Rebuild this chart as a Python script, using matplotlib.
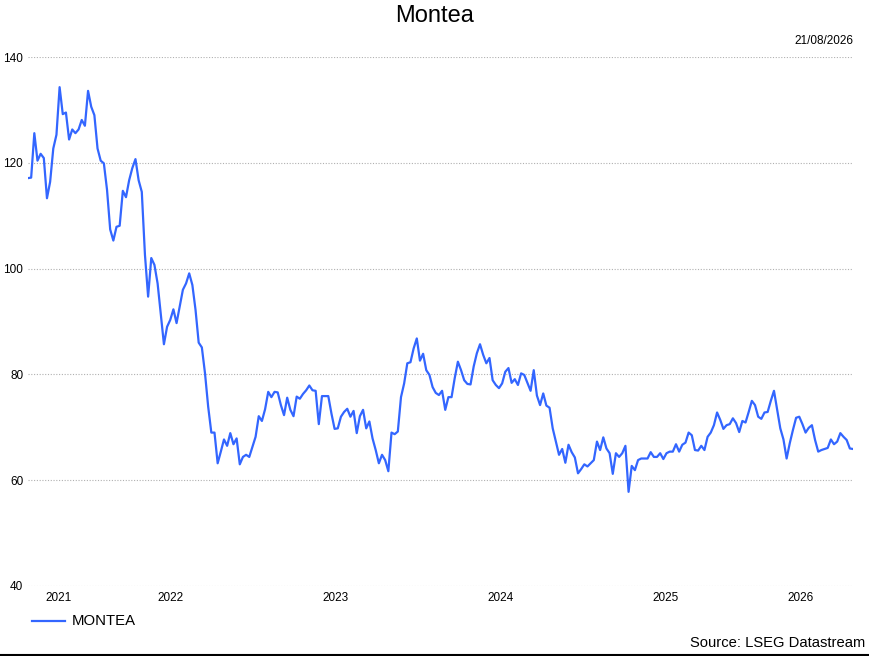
"""Montea weekly share price, five-year line chart."""

import matplotlib

matplotlib.use("Agg")

import matplotlib.dates as mdates
import matplotlib.pyplot as plt
import pandas as pd
from matplotlib.lines import Line2D

plt.rcParams["font.family"] = ["Liberation Sans", "DejaVu Sans"]

# --------------------------------------------------
# data (weekly closes)
# --------------------------------------------------
series_name = "MONTEA"
end_date = "2026-08-21"

prices = [
    # aug 2021 - sep 2022
    117.1, 117.2, 125.6, 120.4, 121.7, 120.9, 113.3, 116.4, 122.7, 125.3,
    134.3, 129.2, 129.5, 124.4, 126.3, 125.6, 126.3, 128.1, 127.0, 133.6,
    130.6, 129.0, 122.7, 120.4, 119.9, 114.9, 107.4, 105.3, 107.9, 108.1,
    114.7, 113.5, 116.7, 119.0, 120.7, 116.7, 114.5, 102.6, 94.7, 102.0,
    100.7,
    97.2, 91.5, 85.7, 89.0, 90.3, 92.3, 89.7, 92.8, 96.0, 97.2,
    99.1, 96.9, 92.2, 86.0, 85.1, 80.2, 73.9, 69.0, 69.0, 63.2,
    65.4, 67.7, 66.5, 68.9, 66.8, 67.9, 63.0, 64.4, 64.8, 64.4,
    66.3, 68.2,
    # 2022 - 2023
    72.1, 71.2, 73.4, 76.7, 75.7, 76.7, 76.6, 74.2, 72.3, 75.6,
    73.3, 72.1, 75.8, 75.4, 76.3, 77.0, 77.9, 77.0, 76.9, 70.6,
    75.9, 75.9, 75.9, 72.6, 69.7, 69.8, 72.0, 72.9, 73.5, 72.0,
    73.1, 68.9, 72.1, 73.3, 69.8, 71.1, 67.9, 65.7, 63.2, 64.8,
    63.8, 61.7,
    69.0, 68.7, 69.2, 75.7, 78.3, 82.1, 82.3, 84.9, 86.8, 82.6,
    83.9, 80.8, 79.9, 77.6, 76.5, 76.1, 76.9, 73.3, 75.7, 75.7,
    79.3, 82.4, 80.8, 78.9, 78.2, 78.1, 81.5, 84.0, 85.7, 83.7,
    82.1, 83.1, 78.9, 78.0, 77.4, 78.3, 80.5, 81.2, 78.4, 79.1,
    78.0, 80.2, 79.9, 78.4, 76.9, 80.8,
    # 2024 - 2025
    76.0, 74.2, 76.4, 74.1, 73.7, 69.8, 67.3, 64.8, 65.9, 63.3,
    66.7, 65.3, 64.3, 61.3, 62.1, 63.0, 62.6, 63.2, 63.8, 67.3,
    65.7, 68.1, 66.0, 65.1, 61.2, 65.1, 64.4, 65.1, 66.5, 57.8,
    62.7, 61.9, 63.8, 64.1, 64.1, 64.1, 65.3, 64.4, 64.4, 65.1,
    64.0, 65.1, 65.4, 65.4, 66.8, 65.4,
    # 2025 - aug 2026
    66.7, 67.1, 69.0, 68.5, 65.7, 65.6, 66.5, 65.7, 68.2, 69.0,
    70.4, 72.8, 71.4, 69.7, 70.4, 70.6, 71.7, 70.8, 69.1, 71.2,
    70.9, 72.9, 75.0, 74.2, 72.0, 71.6, 72.8, 72.9, 75.0, 76.9,
    73.4, 69.8, 67.7, 64.1, 67.0, 69.5, 71.8, 72.0, 70.6, 69.0,
    69.9, 70.4, 67.6, 65.4, 65.7, 65.9, 66.1, 67.7, 66.8, 67.3,
    68.9, 68.2, 67.6, 66.0, 65.9,
]

y_ticks = [40, 60, 80, 100, 120, 140]
years = [2021, 2022, 2023, 2024, 2025, 2026]

dates = pd.date_range(end=end_date, periods=len(prices), freq="W-FRI")

# --------------------------------------------------
# figure
# --------------------------------------------------
fig = plt.figure(figsize=(8.7, 6.56), dpi=100)
ax = fig.add_axes([28 / 870, 70 / 656, 825 / 870, 529 / 656])

line_color = "#3366ff"
ax.plot(dates, prices, color=line_color, linewidth=1.6, label=series_name)

ax.set_xlim(dates[0], dates[-1])
ax.set_ylim(40, 140)

# year labels centred on the visible part of each year
start, end = dates[0], dates[-1]
centres = []
for yr in years:
    lo = max(pd.Timestamp(f"{yr}-01-01"), start)
    hi = min(pd.Timestamp(f"{yr + 1}-01-01"), end)
    centres.append(lo + (hi - lo) / 2)
ax.set_xticks([mdates.date2num(c) for c in centres])
ax.set_xticklabels([str(y) for y in years])

ax.set_yticks(y_ticks)
ax.tick_params(axis="both", length=0, labelsize=8.5, colors="black")
ax.tick_params(axis="y", pad=3.5)
ax.tick_params(axis="x", pad=4)

ax.grid(axis="y", color="#b0b0b0", linestyle=(0, (1, 1.5)), linewidth=0.8)
ax.grid(axis="x", visible=False)
for side in ax.spines.values():
    side.set_visible(False)

# --------------------------------------------------
# texts
# --------------------------------------------------
fig.text(0.5, 1 - 16 / 656, "Montea", ha="center", va="center", fontsize=17)
fig.text(853 / 870, 1 - 41 / 656, "21/08/2026", ha="right", va="center", fontsize=8.5)
fig.text(865 / 870, 1 - 643 / 656, "Source: LSEG Datastream", ha="right",
         va="center", fontsize=10.6)

# legend drawn by hand at the bottom left
fig.add_artist(Line2D([32 / 870, 65 / 870], [1 - 621 / 656] * 2,
                      color=line_color, linewidth=1.6))
fig.text(72 / 870, 1 - 621 / 656, series_name, ha="left", va="center", fontsize=10.7)

# bottom border
fig.add_artist(Line2D([0, 1], [0.8 / 656] * 2, color="black", linewidth=1.5))

fig.savefig("out.png", dpi=100)
plt.close(fig)
